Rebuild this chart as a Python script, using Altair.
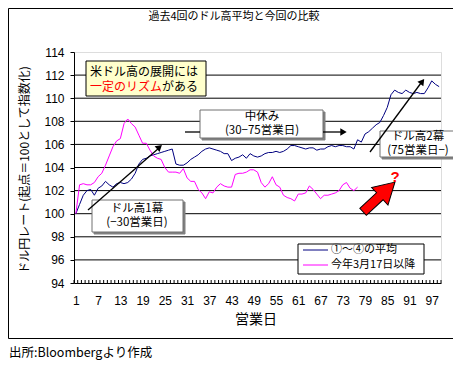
import altair as alt
import pandas as pd

# ---------------- data ----------------
days_avg = list(range(1, 100))
avg_past = [
    100.0, 100.8, 101.6, 102.0, 102.1, 101.6, 102.2, 102.4, 102.8, 102.5,
    102.3, 102.6, 102.7, 102.6, 102.7, 103.0, 103.5, 104.3, 104.7, 104.8,
    105.0, 105.1, 105.2, 105.3, 105.4, 105.5, 105.6, 104.3, 104.2, 104.2,
    104.4, 104.7, 104.9, 105.1, 105.4, 105.6, 105.7, 105.6, 105.5, 105.4,
    105.2, 105.2, 104.6, 104.8, 104.9, 105.1, 104.8, 105.2, 105.0, 104.9,
    105.0, 105.2, 105.3, 105.3, 105.4, 105.3, 105.4, 105.6, 105.9, 105.9,
    105.8, 105.7, 105.6, 105.7, 105.7, 105.5, 105.6, 105.6, 105.8, 105.9,
    105.8, 105.9, 105.9, 105.8, 105.8, 105.6, 106.4, 106.2, 106.9, 107.1,
    107.4, 107.7, 107.9, 108.5, 109.2, 110.3, 110.7, 110.5, 110.4, 110.7,
    110.5, 110.4, 110.5, 110.4, 110.4, 110.9, 111.5, 111.2, 111.0,
]
days_now = list(range(1, 78))
this_year = [
    100.0, 102.5, 102.6, 102.5, 102.5, 102.7, 103.2, 103.5, 104.2, 105.0,
    105.8, 106.3, 106.5, 107.8, 108.2, 107.8, 107.5, 106.8, 106.1, 106.1,
    105.5, 105.0, 104.8, 104.7, 104.0, 103.6, 103.6, 103.6, 103.5, 103.9,
    103.1, 102.8, 102.8, 102.1, 101.8, 101.3, 101.9, 101.8, 102.3, 102.6,
    102.4, 102.3, 102.3, 103.4, 103.5, 103.5, 103.6, 103.8, 103.8, 103.6,
    102.7, 102.3, 102.6, 103.2, 102.5, 102.3, 101.6, 101.4, 101.3, 101.1,
    101.7, 101.7, 101.8, 102.4, 102.1, 101.7, 101.3, 101.6, 101.6, 101.7,
    101.8, 102.0, 102.5, 102.7, 102.2, 102.0, 102.3,
]
series_names = ["①～④の平均", "今年3月17日以降"]
series_colors = ["#000080", "#FF00FF"]
y_ticks = [94, 96, 98, 100, 102, 104, 106, 108, 110, 112, 114]
grid_vals = [96, 98, 100, 102, 104, 106, 108, 110, 112]
x_ticks = [1, 7, 13, 19, 25, 31, 37, 43, 49, 55, 61, 67, 73, 79, 85, 91, 97]
cat_edges = [i + 0.5 for i in range(0, 100)]

title_text = "過去4回のドル高平均と今回の比較"
y_title = "ドル円レート(起点＝100として指数化)"
x_title = "営業日"
source_text = "出所:Bloombergより作成"

# ---------------- layout ----------------
PL, PT = 74, 52          # plot origin on the page
W, H = 367, 231
JP = "Noto Sans CJK JP"
NUM = "Liberation Sans"

lines_df = pd.concat([
    pd.DataFrame({"day": days_avg, "value": avg_past, "series": series_names[0]}),
    pd.DataFrame({"day": days_now, "value": this_year, "series": series_names[1]}),
])

xscale = alt.Scale(domain=[0.5, 99.5], nice=False, zero=False)
yscale = alt.Scale(domain=[94, 114], nice=False, zero=False)

y_axis = alt.Axis(values=y_ticks, title=None, grid=False, labelFont=NUM, labelFontSize=12,
                  labelColor="black", tickSize=4, tickColor="black", labelPadding=6,
                  domainColor="black", labelOverlap=False, labelFlush=False)
x_axis = alt.Axis(values=x_ticks, title=None, grid=False, labelFont=NUM, labelFontSize=12,
                  labelColor="black", tickSize=0, labelPadding=12, domainColor="black",
                  labelOverlap=False, labelFlush=False)

grid = alt.Chart(pd.DataFrame({"g": grid_vals})).mark_rule(color="black", strokeWidth=1).encode(
    y=alt.Y("g:Q", scale=yscale, axis=y_axis)
)

cat_ticks = alt.Chart(pd.DataFrame({"e": cat_edges})).mark_rule(color="black", strokeWidth=1).encode(
    x=alt.X("e:Q", scale=xscale, axis=x_axis),
    y=alt.value(H), y2=alt.value(H - 3),
)

lines = alt.Chart(lines_df).mark_line(strokeWidth=1, clip=True).encode(
    x=alt.X("day:Q", scale=xscale, axis=x_axis),
    y=alt.Y("value:Q", scale=yscale, axis=y_axis),
    color=alt.Color("series:N", scale=alt.Scale(domain=series_names, range=series_colors), legend=None),
    detail="series:N",
)


def P(x, y):
    return x - PL, y - PT


def rects(boxes, **kw):
    df = pd.DataFrame([{"x": P(a, b)[0], "y": P(a, b)[1], "x2": P(c, d)[0], "y2": P(c, d)[1]}
                       for a, b, c, d in boxes])
    return alt.Chart(df).mark_rect(**kw).encode(
        x=alt.X("x:Q", scale=None, axis=None), x2="x2:Q",
        y=alt.Y("y:Q", scale=None, axis=None), y2="y2:Q")


def segs(lst, **kw):
    df = pd.DataFrame([{"x": P(a, b)[0], "y": P(a, b)[1], "x2": P(c, d)[0], "y2": P(c, d)[1]}
                       for a, b, c, d in lst])
    return alt.Chart(df).mark_rule(**kw).encode(
        x=alt.X("x:Q", scale=None, axis=None), x2="x2:Q",
        y=alt.Y("y:Q", scale=None, axis=None), y2="y2:Q")


def texts(lst, **kw):
    df = pd.DataFrame([{"x": P(a, b)[0], "y": P(a, b)[1], "t": t} for a, b, t in lst])
    return alt.Chart(df).mark_text(**kw).encode(
        x=alt.X("x:Q", scale=None, axis=None),
        y=alt.Y("y:Q", scale=None, axis=None), text="t:N")


def heads(lst, **kw):
    df = pd.DataFrame([{"x": P(a, b)[0], "y": P(a, b)[1], "ang": g} for a, b, g in lst])
    return alt.Chart(df).mark_point(**kw).encode(
        x=alt.X("x:Q", scale=None, axis=None),
        y=alt.Y("y:Q", scale=None, axis=None),
        angle=alt.Angle("ang:Q", scale=None))


# outer frame
frame = rects([(8.5, 8.5, 460.5, 338.5)], fill="white", fillOpacity=0, stroke="black", strokeWidth=1)

# annotation boxes
shadows = rects([(202, 112, 325, 140), (94, 202, 185, 234), (382, 133, 460, 159)],
                fill="#808080", stroke="#808080")
boxes = rects([(200, 110, 323, 138), (92, 200, 183, 232), (380, 131, 458, 157)],
              fill="white", stroke="#707070", strokeWidth=1)
yellow = rects([(86, 61, 206, 96)], fill="#FFFFCC", stroke="black", strokeWidth=1)
legend_box = rects([(298, 244, 424, 274)], fill="white", stroke="black", strokeWidth=1)

arrow_lines = segs([(88, 210, 159, 148), (185, 132, 200, 132), (323, 132, 341, 132),
                    (370, 152, 421, 83)], color="black", strokeWidth=1.3)
arrow_heads = heads([(159.5, 147, 48.7), (343.5, 132, 90), (422.3, 81.5, 36.6)],
                    shape="triangle-up", filled=True, color="black", size=55, opacity=1)

red_arrow = heads([(379, 197, 47)],
                  shape="M-0.22,1 L-0.22,-0.05 L-0.55,-0.05 L0,-1 L0.55,-0.05 L0.22,-0.05 L0.22,1 Z",
                  filled=True, fill="#FF0000", stroke="black", strokeWidth=1, size=1900, opacity=1)

legend_lines = alt.Chart(pd.DataFrame({
    "x": [303 - PL, 303 - PL], "x2": [328 - PL, 328 - PL],
    "y": [250 - PT, 265 - PT], "series": series_names})).mark_rule(strokeWidth=1).encode(
    x=alt.X("x:Q", scale=None, axis=None), x2="x2:Q",
    y=alt.Y("y:Q", scale=None, axis=None),
    color=alt.Color("series:N", scale=alt.Scale(domain=series_names, range=series_colors), legend=None))
legend_text = texts([(331, 250, series_names[0]), (331, 265, series_names[1])],
                    font=JP, fontSize=11, align="left", baseline="middle", color="black")

box_text = texts([(262, 117, "中休み"), (262, 131, "(30−75営業日)"),
                  (137, 209, "ドル高1幕"), (137, 223, "(−30営業日)"),
                  (418, 137, "ドル高2幕"), (418, 151, "(75営業日−)")],
                 font=JP, fontSize=11.5, align="center", baseline="middle", color="black")
yellow_black = texts([(90, 72, "米ドル高の展開には"), (162, 87, "がある")],
                     font=JP, fontSize=12, align="left", baseline="middle", color="black")
yellow_red = texts([(90, 87, "一定のリズム")],
                   font=JP, fontSize=12, align="left", baseline="middle", color="#FF0000")
qmark = texts([(395, 177, "?")], font=NUM, fontSize=15, fontWeight="bold", align="center",
              baseline="middle", color="#FF0000")

title = texts([(234, 17, title_text)], font=JP, fontSize=11, align="center", baseline="middle", color="black")
xt = texts([(256, 320, x_title)], font=JP, fontSize=14, align="center", baseline="middle", color="black")
yt = texts([(25, 170, y_title)], font=JP, fontSize=12, align="center", baseline="middle",
           color="black", angle=270)
src = texts([(9, 353, source_text)], font=JP, fontSize=12.5, align="left", baseline="middle", color="black")

chart = alt.layer(
    frame, grid, cat_ticks, lines, yellow, shadows, boxes, arrow_lines, arrow_heads, red_arrow,
    legend_box, legend_lines, legend_text, box_text, yellow_black, yellow_red, qmark,
    title, xt, yt, src,
).properties(
    width=W, height=H,
    autosize=alt.AutoSizeParams(type="none"),
    padding={"left": PL - 8, "top": PT - 8, "right": 465 - 8 - PL - W - 8 + 4, "bottom": 356 - (PT - 8) - H},
).configure_view(stroke="#808080", strokeWidth=1).configure_axis(labelOverlap=False).configure(background="white")

chart.save("out.html", embed_options={"renderer": "svg", "actions": False})
